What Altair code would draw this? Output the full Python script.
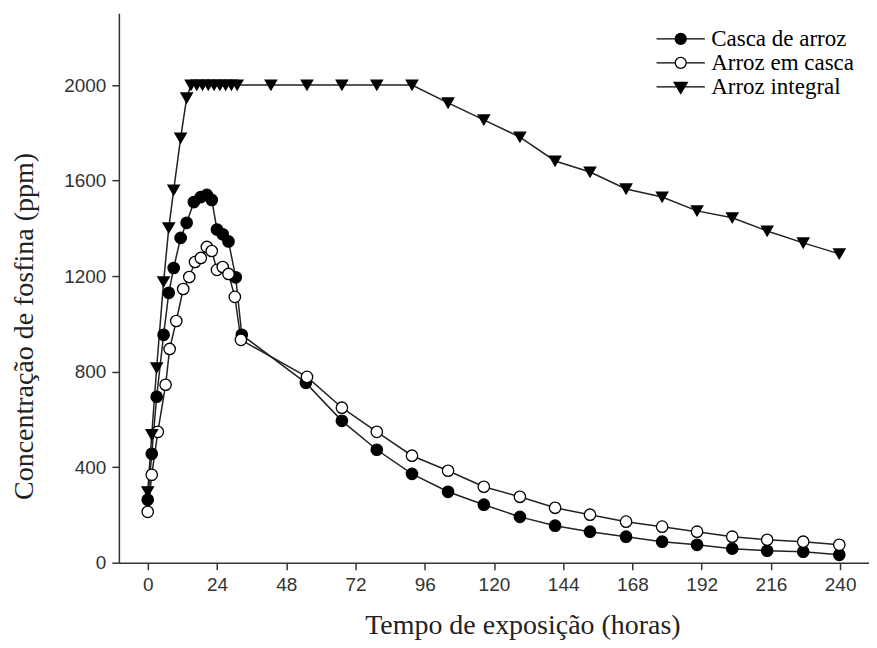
import altair as alt
import pandas as pd

series_names = ["Casca de arroz", "Arroz em casca", "Arroz integral"]

casca_h = [0, 1.4, 3.1, 5.5, 7.3, 9, 11.4, 13.5, 16, 18.4, 20.5, 22.2, 24, 26, 28, 30.5, 32.6,
           54.8, 67.3, 79.4, 91.6, 104.1, 116.5, 129, 141.2, 153.3, 165.8, 178.3, 190.4, 202.6,
           214.7, 227.2, 239.7]
casca_ppm = [264, 456, 695, 954, 1130, 1234, 1360, 1423, 1510, 1531, 1540, 1519, 1395, 1375, 1345,
             1195, 954, 753, 594, 473, 372, 297, 243, 192, 155, 130, 109, 88, 75, 59, 50, 46, 33]

emcasca_h = [0, 1.4, 3.5, 6.2, 7.6, 9.9, 12.3, 14.4, 16.4, 18.4, 20.5, 22.2, 24, 26, 28, 30.2, 32.3,
             55.2, 67.3, 79.4, 91.6, 104.1, 116.5, 129, 141.2, 153.3, 165.8, 178.3, 190.4, 202.6,
             214.7, 227.2, 239.7]
emcasca_ppm = [213, 368, 548, 745, 895, 1012, 1146, 1196, 1259, 1276, 1322, 1305, 1226, 1238, 1209,
               1113, 933, 778, 649, 548, 448, 385, 318, 276, 230, 201, 172, 151, 130, 109, 96, 88, 75]

integral_h = [0, 1.4, 3.1, 5.5, 7.3, 9, 11.4, 13.5, 15, 17, 19, 21, 23, 25, 27, 29, 31,
              42.7, 55.2, 67.3, 79.4, 91.6, 104.1, 116.5, 129, 141.2, 153.3, 165.8, 178.3, 190.4,
              202.6, 214.7, 227.2, 239.7]
integral_ppm = [297, 536, 816, 1176, 1402, 1560, 1778, 1946, 2000, 2000, 2000, 2000, 2000, 2000, 2000,
                2000, 2000, 2000, 2000, 2000, 2000, 2000, 1925, 1854, 1782, 1682, 1636, 1565, 1531,
                1473, 1444, 1389, 1339, 1293]

x_ticks = list(range(0, 241, 24))
y_ticks = list(range(0, 2001, 400))

rows = []
for name, hs, vs in zip(series_names,
                        [casca_h, emcasca_h, integral_h],
                        [casca_ppm, emcasca_ppm, integral_ppm]):
    for h, v in zip(hs, vs):
        rows.append({"serie": name, "horas": h, "ppm": v})
df = pd.DataFrame(rows)

x_enc = alt.X("horas:Q",
              scale=alt.Scale(domain=[-10, 250], nice=False, zero=False),
              axis=alt.Axis(values=x_ticks, title="Tempo de exposição (horas)",
                            titleX=404, titleY=63, titleBaseline="middle", titleAlign="center",
                            labelPadding=6))
y_enc = alt.Y("ppm:Q",
              scale=alt.Scale(domain=[0, 2300], nice=False),
              axis=alt.Axis(values=y_ticks, format="d", title="Concentração de fosfina (ppm)",
                            titleX=-94, titleY=313, titleBaseline="middle", titleAlign="center",
                            titleAngle=-90, labelPadding=6))

base = alt.Chart(df)

lines = base.mark_line(color="#222", strokeWidth=1.5).encode(
    x=x_enc, y=y_enc, detail="serie:N", order="horas:Q")

points = base.mark_point(filled=True, stroke="black", strokeWidth=1.3, opacity=1).encode(
    x=x_enc, y=y_enc,
    shape=alt.Shape("serie:N", scale=alt.Scale(domain=series_names,
                                               range=["circle", "circle", "triangle-down"]),
                    legend=None),
    fill=alt.Fill("serie:N", scale=alt.Scale(domain=series_names,
                                             range=["black", "white", "black"]),
                  legend=None),
    size=alt.Size("serie:N", scale=alt.Scale(domain=series_names, range=[130, 130, 150]),
                  legend=None),
)

# legend glyphs: a short line with the marker at its middle
circle_path = "M-4.4,0L-1,0M1,0L4.4,0M-1,0A1,1,0,1,0,1,0A1,1,0,1,0,-1,0Z"
tri_path = "M-4.4,0L4.4,0M-1.2,-0.8L1.2,-0.8L0,1.2Z"

leg = alt.Legend(title=None, orient="none", legendX=551, legendY=14, padding=0,
                 symbolSize=121, symbolOpacity=1, symbolStrokeWidth=1.3,
                 labelFont="Liberation Serif", labelFontSize=23, labelColor="black",
                 labelOffset=19, rowPadding=0)

legend_layer = base.mark_point(filled=True, stroke="black", strokeWidth=1.3, opacity=0).encode(
    x=x_enc, y=y_enc,
    shape=alt.Shape("serie:N", scale=alt.Scale(domain=series_names,
                                               range=[circle_path, circle_path, tri_path]),
                    legend=leg, sort=series_names),
    fill=alt.Fill("serie:N", scale=alt.Scale(domain=series_names,
                                             range=["black", "white", "black"]),
                  legend=leg, sort=series_names),
)

chart = alt.layer(lines, points, legend_layer).resolve_scale(
    shape="independent", fill="independent", size="independent"
).properties(
    width=751, height=550,
    autosize=alt.AutoSizeParams(type="none"),
    padding={"left": 111, "top": 5, "right": 0, "bottom": 77},
).configure_view(stroke=None).configure_axis(
    grid=False, domainColor="#333", domainWidth=1.5, tickColor="#333", tickSize=7,
    tickWidth=1.5, labelFont="Liberation Sans", labelFontSize=19, labelColor="#333",
    titleFont="Liberation Serif", titleFontSize=28, titleColor="#222", titleFontWeight="normal",
)

chart.save("out.html", embed_options={"renderer": "svg", "actions": False})
